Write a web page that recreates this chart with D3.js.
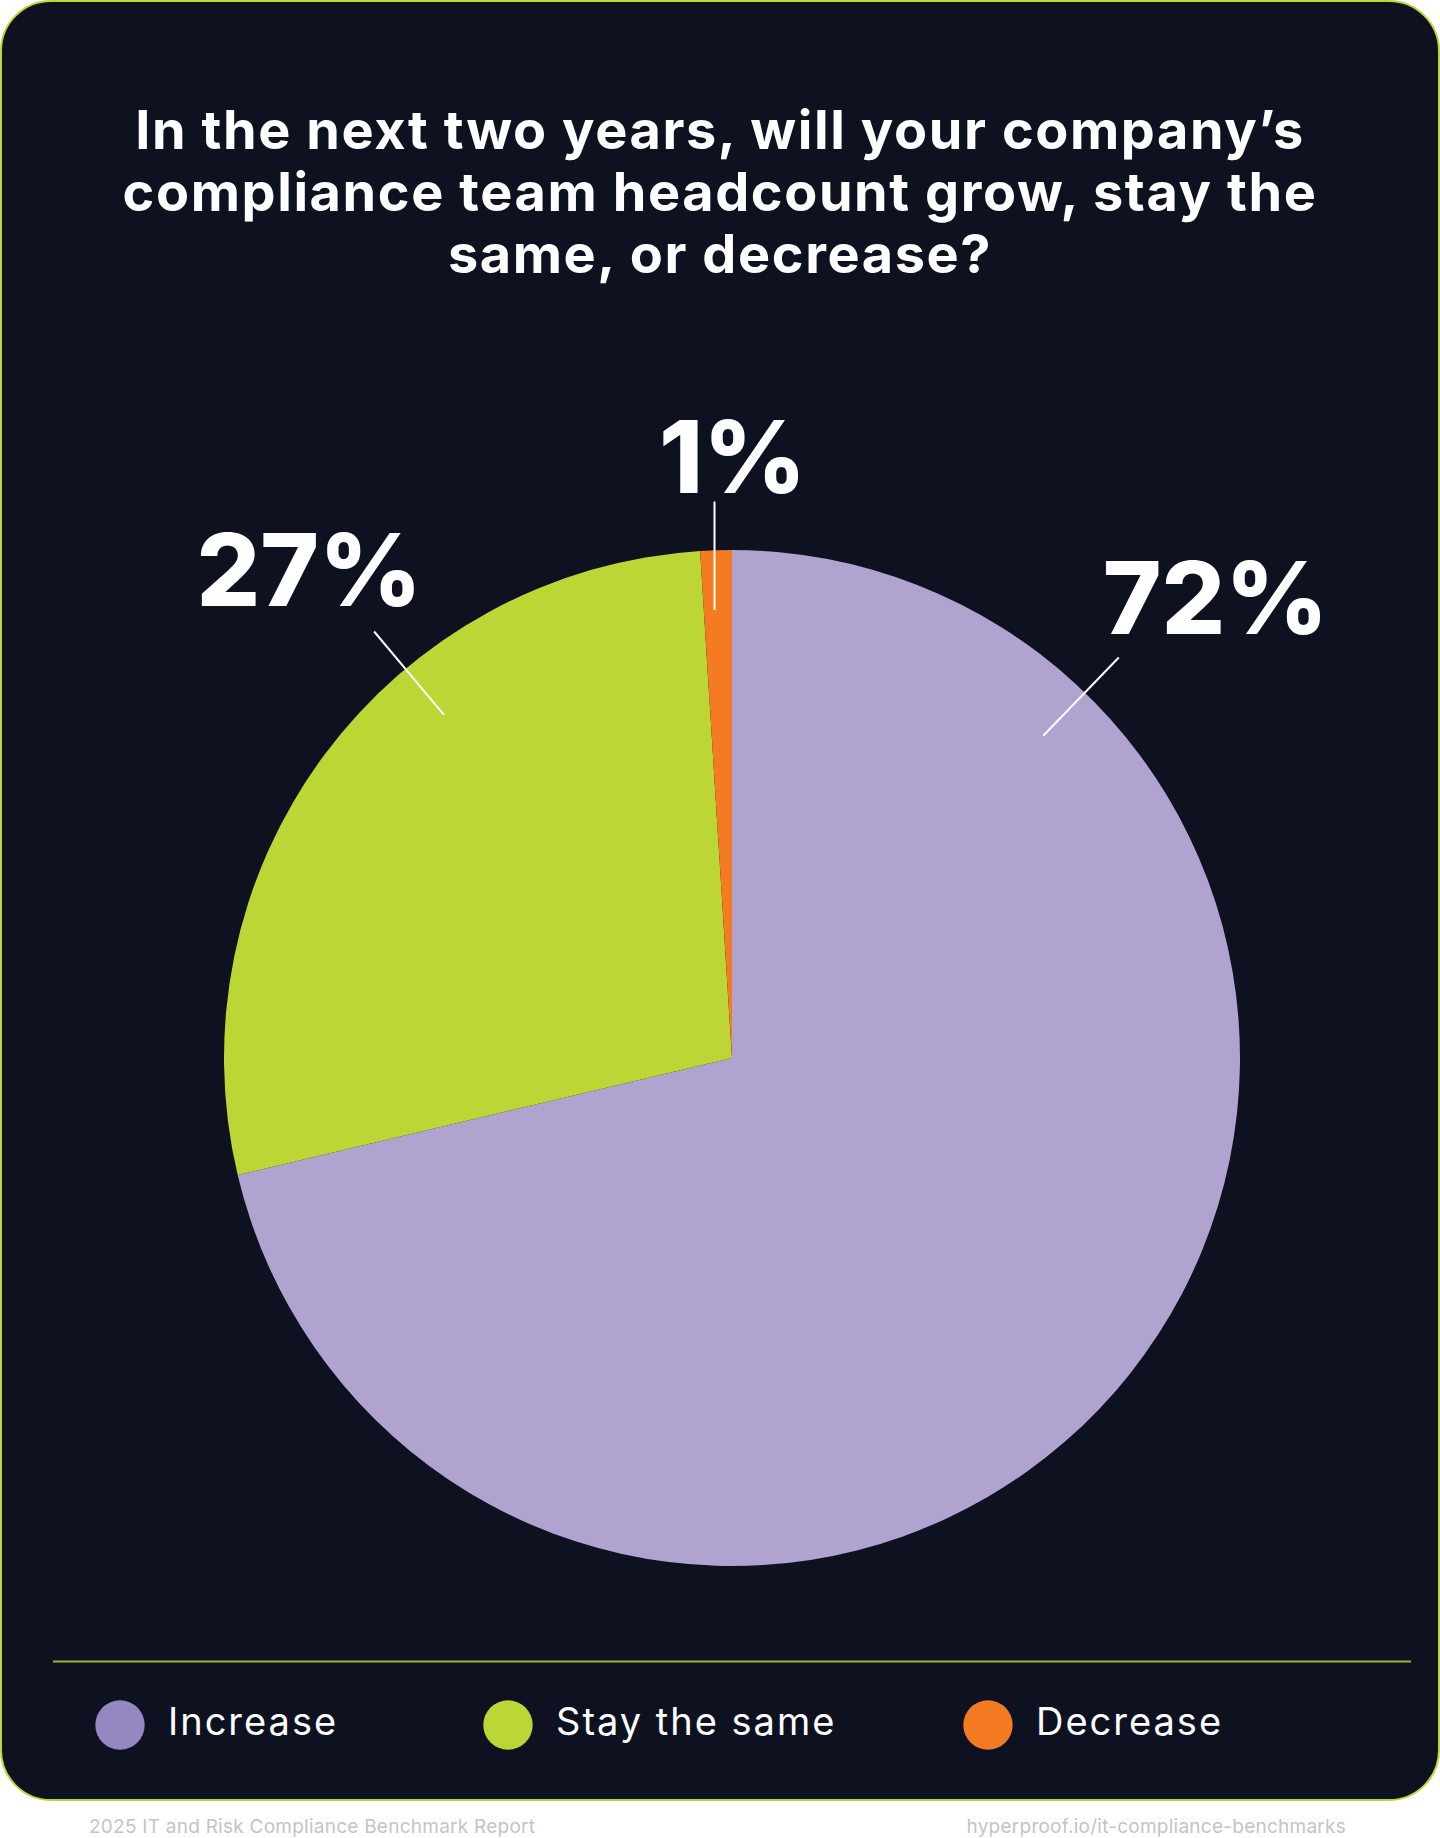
<!DOCTYPE html>
<html lang="en">
<head>
  <meta charset="utf-8">
  <title>Compliance team headcount</title>
  <script src="https://d3js.org/d3.v7.min.js"></script>
  <style>
    html, body { margin: 0; padding: 0; background: #ffffff; }
    svg { display: block; }
    .title text { font: 700 54px Inter, sans-serif; letter-spacing: 1.6px; fill: #ffffff; text-anchor: middle; }
    .callout text { font: 800 100px Inter, sans-serif; fill: #ffffff; }
    .legend text { font: 400 38px Inter, sans-serif; letter-spacing: 2px; fill: #ffffff; }
    .footer text { font: 400 19px Inter, sans-serif; letter-spacing: 0.25px; fill: #c4c4c4; }
  </style>
</head>
<body>
<div id="chart"></div>
<script>
"use strict"

// data
var categories = ["Increase", "Stay the same", "Decrease"];
var shares = [71.3, 27.7, 1.0];          // slice sizes as drawn
var shareLabels = ["72%", "27%", "1%"];  // printed labels
var titleLines = [
  "In the next two years, will your company\u2019s",
  "compliance team headcount grow, stay the",
  "same, or decrease?"
];
var footerLeft = "2025 IT and Risk Compliance Benchmark Report";
var footerRight = "hyperproof.io/it-compliance-benchmarks";

// look
var W = 1440, H = 1838;
var cx = 732, cy = 1058, R = 508;
var sliceColors = ["#b1a3cf", "#bcd636", "#f47b21"];
var legendColors = ["#9587c0", "#bcd636", "#f47b21"];
// callout line angle (deg) and label offset from the line's outer end
var callouts = [
  { angle: 44, dx: -16, dy: -24, anchor: "start" },
  { angle: -40, dx: -65, dy: -26, anchor: "middle" },
  { angle: null, dx: 18, dy: -9, anchor: "middle" }
];

var svg = d3.select("#chart").append("svg")
  .attr("width", W)
  .attr("height", H);

// card
svg.append("rect")
  .attr("x", 1).attr("y", 1)
  .attr("width", W - 2).attr("height", 1799)
  .attr("rx", 50).attr("ry", 50)
  .attr("fill", "#0e1120")
  .attr("stroke", "#bcd636")
  .attr("stroke-width", 2);

// title
svg.append("g").attr("class", "title")
  .selectAll("text")
  .data(titleLines)
  .enter().append("text")
    .attr("x", 720)
    .attr("y", function(d, i) { return 149 + i * 62; })
    .text(function(d) { return d; });

// pie
var rows = categories.map(function(c, i) {
  return { cat: c, share: shares[i], label: shareLabels[i], i: i };
});

var pie = d3.pie()
  .sort(null)
  .value(function(d) { return d.share; });

var arcs = pie(rows);

var arc = d3.arc().innerRadius(0).outerRadius(R);

var g = svg.append("g").attr("transform", "translate(" + cx + "," + cy + ")");

g.selectAll("path")
  .data(arcs)
  .enter().append("path")
    .attr("d", arc)
    .attr("fill", function(d) { return sliceColors[d.data.i]; });

// callouts
function polar(angleRad, r) {
  return [Math.sin(angleRad) * r, -Math.cos(angleRad) * r];
}

var co = g.append("g").attr("class", "callout");

arcs.forEach(function(d) {
  var c = callouts[d.data.i];
  var a = c.angle === null ? (d.startAngle + d.endAngle) / 2 : c.angle * Math.PI / 180;
  var p0 = polar(a, R * 0.882);
  var p1 = polar(a, R * 1.096);
  if (c.angle === null) p0[0] = p1[0]; // keep the short one vertical
  co.append("line")
    .attr("x1", p0[0]).attr("y1", p0[1])
    .attr("x2", p1[0]).attr("y2", p1[1])
    .attr("stroke", "#ffffff")
    .attr("stroke-width", 2);
  co.append("text")
    .attr("x", p1[0] + c.dx)
    .attr("y", p1[1] + c.dy)
    .attr("text-anchor", c.anchor)
    .text(d.data.label);
});

// separator
svg.append("line")
  .attr("x1", 53).attr("x2", 1411)
  .attr("y1", 1661.5).attr("y2", 1661.5)
  .attr("stroke", "#9db631")
  .attr("stroke-width", 2);

// legend
var lx = d3.scaleOrdinal().domain(categories).range([120, 508, 988]);

var leg = svg.append("g").attr("class", "legend")
  .selectAll("g")
  .data(categories)
  .enter().append("g")
    .attr("transform", function(d) { return "translate(" + lx(d) + ",1725)"; });

leg.append("circle")
  .attr("r", 24.7)
  .attr("fill", function(d, i) { return legendColors[i]; });

leg.append("text")
  .attr("x", 48)
  .attr("y", 10)
  .text(function(d) { return d; });

// footer
var ft = svg.append("g").attr("class", "footer");
ft.append("text").attr("x", 89).attr("y", 1833).text(footerLeft);
ft.append("text").attr("x", 1346).attr("y", 1833).attr("text-anchor", "end").text(footerRight);
</script>
</body>
</html>
